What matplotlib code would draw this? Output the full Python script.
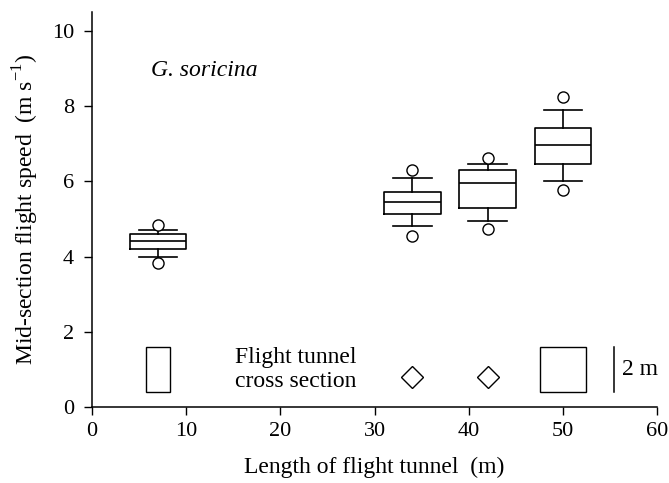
import matplotlib.pyplot as plt
from matplotlib.patches import Rectangle

plt.rcParams['font.family'] = ['Liberation Serif', 'DejaVu Serif']
plt.rcParams['mathtext.fontset'] = 'custom'
plt.rcParams['mathtext.rm'] = 'Liberation Serif'

# tunnel length (m) and flight speed summaries (m s-1)
tunnel_length = [7, 34, 42, 50]
whisker_low = [4.00, 4.82, 4.95, 6.02]
q1 = [4.20, 5.13, 5.28, 6.46]
median = [4.41, 5.44, 5.97, 6.96]
q3 = [4.60, 5.73, 6.29, 7.43]
whisker_high = [4.72, 6.10, 6.47, 7.90]
outliers = [[3.82, 4.84], [4.55, 6.29], [4.74, 6.61], [5.77, 8.25]]

# cross sections (width, height in m); small ones drawn as diamonds
section_w = [1.04, 0.7, 0.7, 2.03]
section_h = [2.0, 0.7, 0.7, 2.0]
section_diamond = [False, True, True, False]
scale_bar_m = 2.0

fig = plt.figure(figsize=(6.69, 4.83), dpi=100)
ax = fig.add_axes([0.1375, 0.157, 0.845, 0.818])

stats = []
for i in range(len(tunnel_length)):
    stats.append(dict(whislo=whisker_low[i], q1=q1[i], med=median[i], q3=q3[i],
                      whishi=whisker_high[i], fliers=outliers[i]))

line = dict(color='black', linewidth=1.2)
ax.bxp(stats, positions=tunnel_length, widths=6, capwidths=4.1,
       manage_ticks=False,
       boxprops=line, medianprops=line, whiskerprops=line, capprops=line,
       flierprops=dict(marker='o', markerfacecolor='white', markeredgecolor='black',
                       markersize=8, markeredgewidth=1.0))

ax.set_xlim(0, 60)
ax.set_ylim(0, 10.5)

# metres -> data units for the cross-section sketches
bb = ax.get_position()
ax_w_px = bb.width * fig.get_figwidth() * fig.dpi
ax_h_px = bb.height * fig.get_figheight() * fig.dpi
y_per_m = 0.6
x_per_m = y_per_m * (ax_h_px / 10.5) / (ax_w_px / 60)
base_y = 0.41
for x, w, h, dia in zip(tunnel_length, section_w, section_h, section_diamond):
    if dia:
        ax.plot(x, 0.8, marker='D', markersize=11,
                markerfacecolor='white', markeredgecolor='black', markeredgewidth=1.0)
    else:
        ax.add_patch(Rectangle((x - w * x_per_m / 2, base_y), w * x_per_m, h * y_per_m,
                               facecolor='white', edgecolor='black', linewidth=1.0))

ax.plot([55.4, 55.4], [base_y, base_y + scale_bar_m * y_per_m], color='black', linewidth=1.1)
ax.text(56.3, base_y + scale_bar_m * y_per_m / 2, '2 m', fontsize=17, va='center', ha='left')
ax.text(15.2, 1.0, 'Flight tunnel\ncross section', fontsize=17, va='center', ha='left',
        linespacing=1.15)
ax.text(6.3, 8.96, 'G. soricina', fontsize=17, style='italic', va='center', ha='left')

ax.set_xticks([0, 10, 20, 30, 40, 50, 60])
ax.set_yticks([0, 2, 4, 6, 8, 10])
ax.tick_params(direction='out', length=6, width=1.0, labelsize=16)
ax.tick_params(axis='x', pad=5)
ax.tick_params(axis='y', pad=7)
ax.spines['top'].set_visible(False)
ax.spines['right'].set_visible(False)
for s in ('left', 'bottom'):
    ax.spines[s].set_linewidth(1.1)

ax.set_xlabel('Length of flight tunnel  (m)', fontsize=17, labelpad=11)
ax.set_ylabel('Mid-section flight speed  (m s$^{-1}$)', fontsize=17, labelpad=8)

fig.savefig('out.png', dpi=100)
